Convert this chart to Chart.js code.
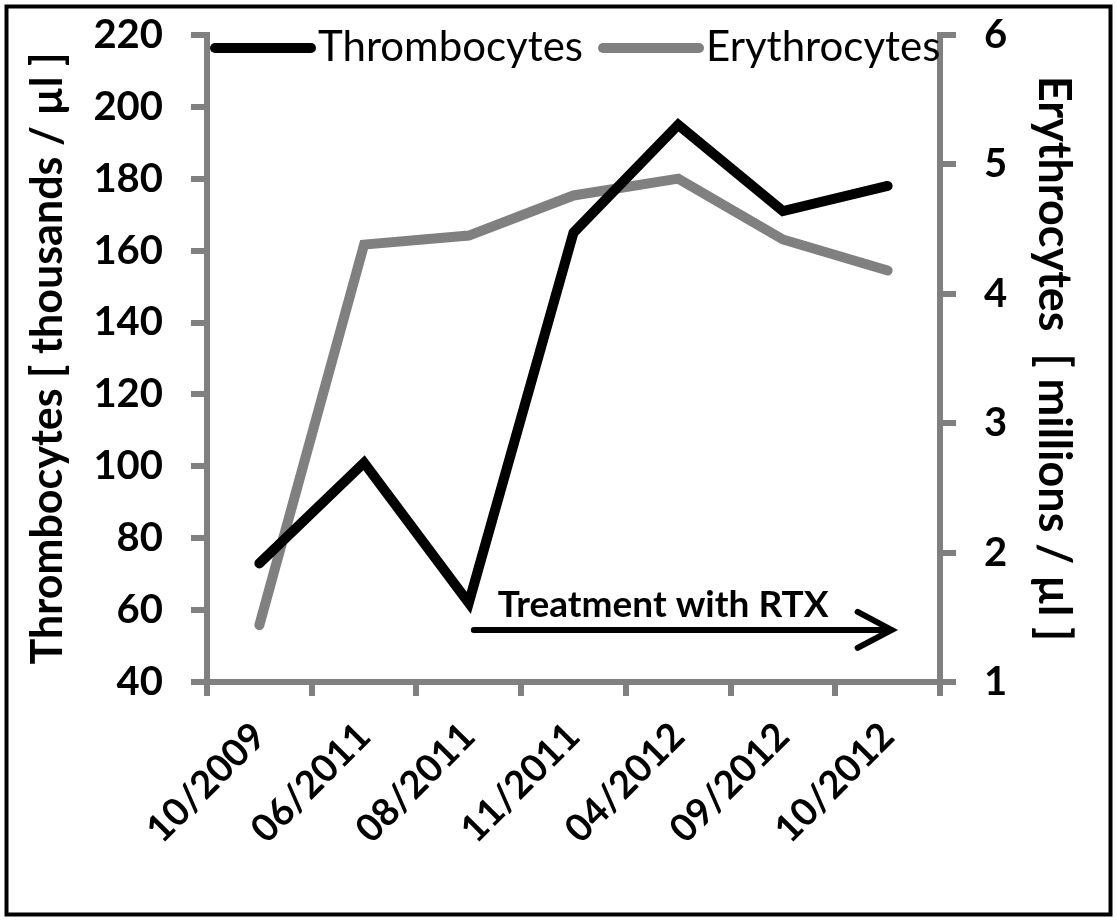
<!DOCTYPE html>
<html>
<head>
<meta charset="utf-8">
<script src="https://cdn.jsdelivr.net/npm/chart.js@4"></script>
<style>
  body { margin: 0; background: #fff; }
  canvas { display: block; }
</style>
</head>
<body>
<canvas id="chart" width="1117" height="921"></canvas>
<script>
// data
const dates = ['10/2009', '06/2011', '08/2011', '11/2011', '04/2012', '09/2012', '10/2012'];
const thrombocytes = [73, 101, 62, 165, 195, 171, 178];      // thousands / µl (left axis)
const erythrocytes = [1.44, 4.38, 4.45, 4.76, 4.89, 4.42, 4.18]; // millions / µl (right axis)
const treatmentStart = 2;   // 08/2011
const treatmentEnd = 6;     // 10/2012
const treatmentLevel = 54.5; // left axis value where the arrow sits

const GRAY = '#808080';
const FONT = 'Lato, "Open Sans", sans-serif';

// frame, legend and the RTX arrow
const extras = {
  id: 'extras',
  afterDraw(chart) {
    const ctx = chart.ctx;
    const x = chart.scales.x, y = chart.scales.y;
    ctx.save();

    // outer frame
    ctx.strokeStyle = '#000';
    ctx.lineWidth = 4;
    ctx.strokeRect(6.5, 6.5, 1104, 908);

    // legend
    ctx.lineCap = 'round';
    ctx.lineWidth = 10;
    ctx.font = '42px ' + FONT;
    ctx.textBaseline = 'middle';
    ctx.textAlign = 'left';
    const legendX = [215, 603];
    chart.data.datasets.forEach((ds, i) => {
      ctx.strokeStyle = ds.borderColor;
      ctx.beginPath();
      ctx.moveTo(legendX[i], 48);
      ctx.lineTo(legendX[i] + 96, 48);
      ctx.stroke();
      ctx.fillStyle = '#000';
      ctx.fillText(ds.label, legendX[i] + 103, 47);
    });

    // treatment arrow
    const x0 = x.getPixelForValue(treatmentStart) + 5;
    const x1 = x.getPixelForValue(treatmentEnd) + 4;
    const ya = y.getPixelForValue(treatmentLevel);
    ctx.strokeStyle = '#000';
    ctx.lineWidth = 6;
    ctx.beginPath();
    ctx.moveTo(x0, ya);
    ctx.lineTo(x1, ya);
    ctx.moveTo(x1 - 34, ya - 18);
    ctx.lineTo(x1, ya);
    ctx.lineTo(x1 - 34, ya + 18);
    ctx.stroke();
    ctx.font = 'bold 37px ' + FONT;
    ctx.textBaseline = 'alphabetic';
    ctx.fillStyle = '#000';
    ctx.fillText('Treatment with RTX', x0 + 24, ya - 13);

    ctx.restore();
  }
};

function fixWidth(w) {
  return s => { s.width = w; s.paddingTop = 0; s.paddingBottom = 0; };
}

new Chart(document.getElementById('chart'), {
  type: 'line',
  data: {
    labels: dates,
    datasets: [
      {
        label: 'Thrombocytes',
        data: thrombocytes,
        yAxisID: 'y',
        borderColor: '#000',
        borderWidth: 10,
        borderCapStyle: 'round',
        pointRadius: 0,
        tension: 0
      },
      {
        label: 'Erythrocytes',
        data: erythrocytes,
        yAxisID: 'y1',
        borderColor: GRAY,
        borderWidth: 10,
        borderCapStyle: 'round',
        pointRadius: 0,
        tension: 0
      }
    ]
  },
  options: {
    responsive: false,
    animation: false,
    layout: { padding: { top: 35, left: 0, right: 0, bottom: 0 } },
    plugins: {
      legend: { display: false },
      tooltip: { enabled: false }
    },
    scales: {
      x: {
        offset: true,
        grid: { offset: true, drawOnChartArea: false, color: GRAY, lineWidth: 6, tickLength: 14 },
        border: { color: GRAY, width: 6 },
        ticks: {
          color: '#000',
          font: { family: FONT, size: 38, weight: 'bold' },
          minRotation: 45,
          maxRotation: 45,
          padding: 18
        },
        afterFit(s) { s.height = 239; s.paddingLeft = 0; s.paddingRight = 0; }
      },
      y: {
        position: 'left',
        min: 40,
        max: 220,
        ticks: {
          stepSize: 20,
          color: '#000',
          font: { family: FONT, size: 40, weight: 'bold' },
          padding: 28
        },
        grid: { drawOnChartArea: false, color: GRAY, lineWidth: 6, tickLength: 16 },
        border: { color: GRAY, width: 6 },
        title: {
          display: true,
          text: 'Thrombocytes [ thousands / µl ]',
          color: '#000',
          font: { family: FONT, size: 43, weight: 'bold' },
          padding: { top: 22, bottom: 0 }
        },
        afterFit: fixWidth(207)
      },
      y1: {
        position: 'right',
        min: 1,
        max: 6,
        ticks: {
          stepSize: 1,
          color: '#000',
          font: { family: FONT, size: 40, weight: 'bold' },
          padding: 28
        },
        grid: { drawOnChartArea: false, color: GRAY, lineWidth: 6, tickLength: 16 },
        border: { color: GRAY, width: 6 },
        title: {
          display: true,
          text: 'Erythrocytes  [ millions / µl ]',
          color: '#000',
          font: { family: FONT, size: 45, weight: 'bold' },
          padding: { top: 36, bottom: 0 }
        },
        afterFit: fixWidth(177)
      }
    }
  },
  plugins: [extras]
});
</script>
</body>
</html>
